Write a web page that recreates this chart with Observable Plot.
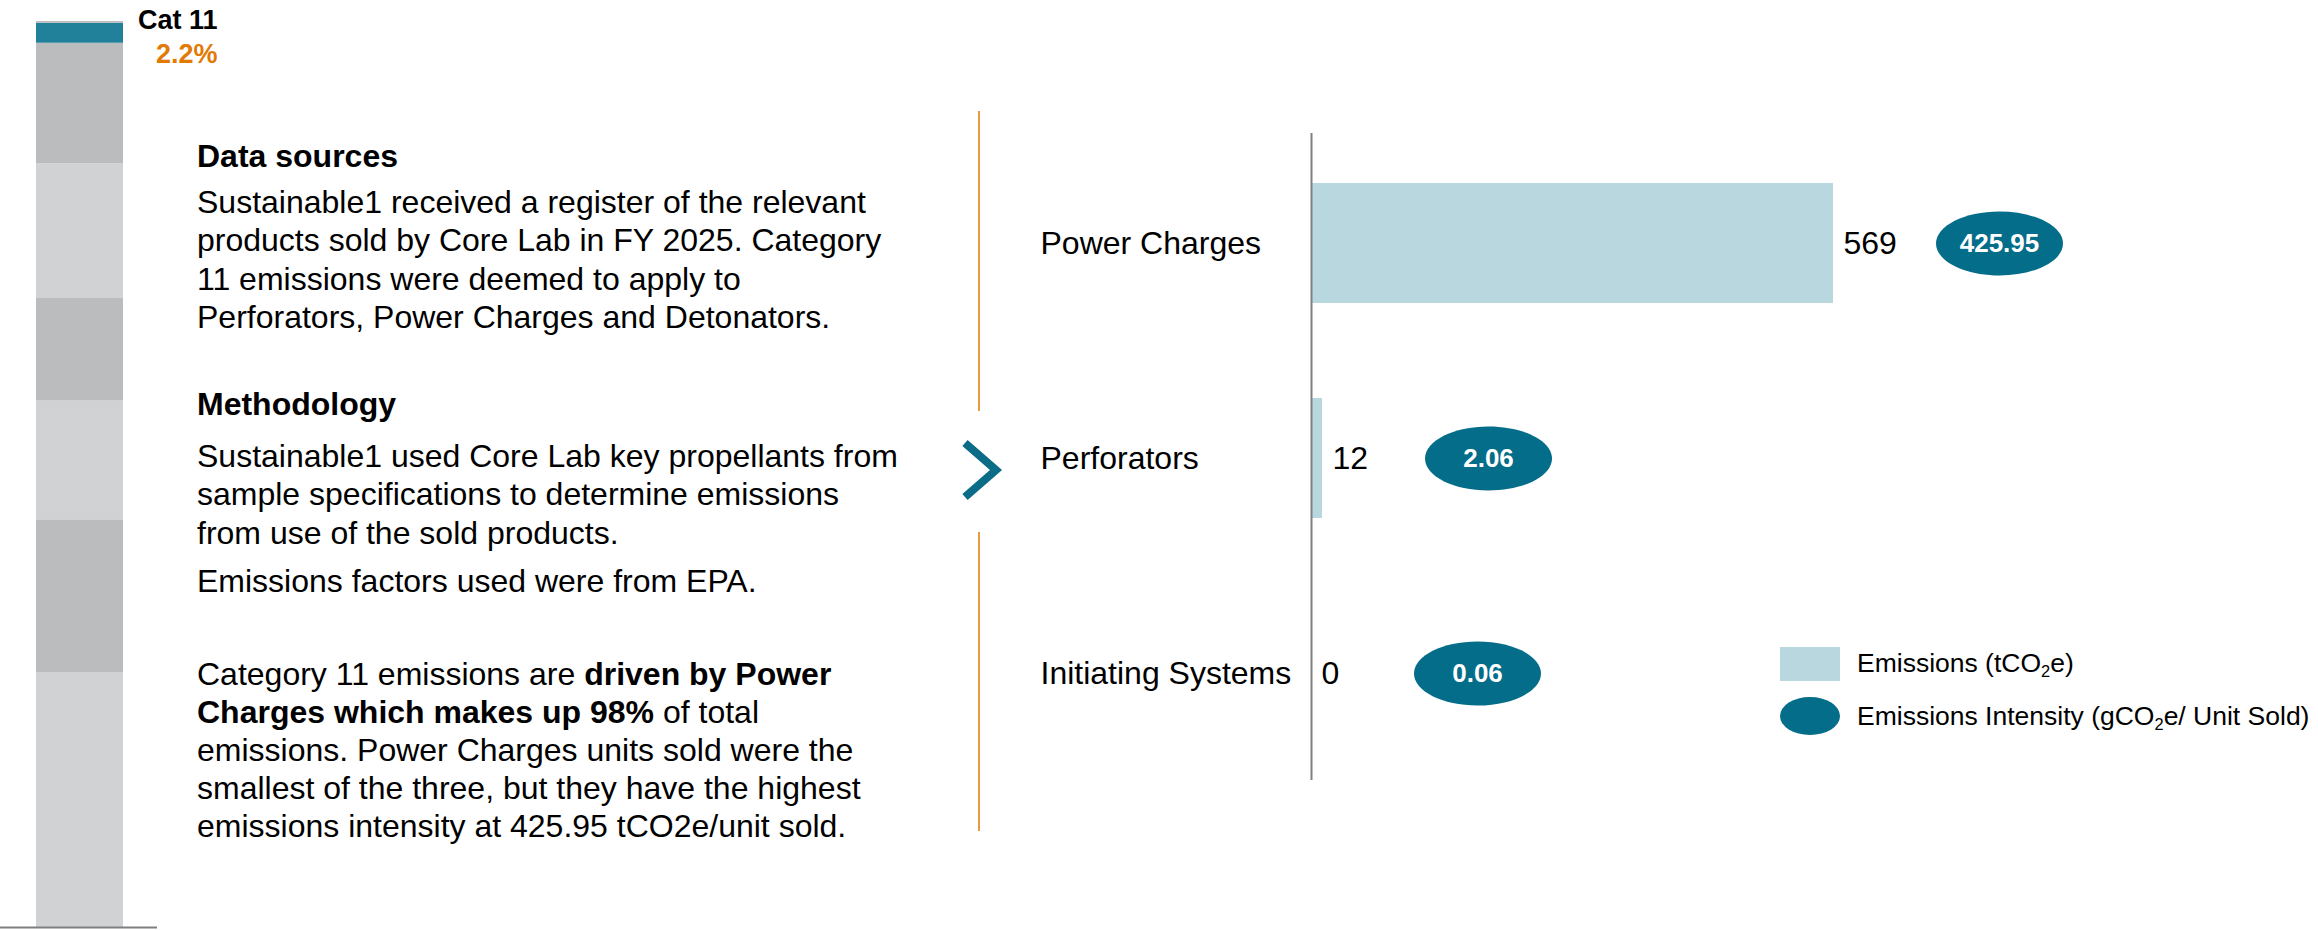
<!DOCTYPE html>
<html>
<head>
<meta charset="utf-8">
<script src="https://cdn.jsdelivr.net/npm/d3@7"></script>
<script src="https://cdn.jsdelivr.net/npm/@observablehq/plot@0.6"></script>
<style>
  body { margin: 0; background: #fff; }
  #root { position: relative; width: 2318px; height: 930px; overflow: hidden;
          font-family: "Liberation Sans", Arial, Helvetica, sans-serif; color: #000; }
  .tx { position: absolute; left: 197px; font-size: 32px; line-height: 38.5px; white-space: nowrap; }
  .hd { font-weight: bold; }
  .lg { position: absolute; left: 1857px; font-size: 26.5px; line-height: 30px; white-space: nowrap; }
  .lg sub { font-size: 0.62em; vertical-align: -0.3em; line-height: 0; }
</style>
</head>
<body>
<div id="root">
  <div class="tx hd" style="top:136.7px">Data sources</div>
  <div class="tx" style="top:182.7px">Sustainable1 received a register of the relevant<br>products sold by Core Lab in FY 2025. Category<br>11 emissions were deemed to apply to<br>Perforators, Power Charges and Detonators.</div>
  <div class="tx hd" style="top:384.7px">Methodology</div>
  <div class="tx" style="top:436.7px">Sustainable1 used Core Lab key propellants from<br>sample specifications to determine emissions<br>from use of the sold products.</div>
  <div class="tx" style="top:561.7px">Emissions factors used were from EPA.</div>
  <div class="tx" style="top:654.9px;line-height:38px">Category 11 emissions are <b>driven by Power<br>Charges which makes up 98%</b> of total<br>emissions. Power Charges units sold were the<br>smallest of the three, but they have the highest<br>emissions intensity at 425.95 tCO2e/unit sold.</div>

  <svg style="position:absolute;left:1780px;top:647px" width="60" height="34"><rect width="60" height="34" fill="#b8d7df"/></svg>
  <div class="lg" style="top:648.4px">Emissions (tCO<sub>2</sub>e)</div>
  <svg style="position:absolute;left:1780px;top:697px" width="60" height="38"><ellipse cx="30" cy="19" rx="30" ry="19" fill="#046d89"/></svg>
  <div class="lg" style="top:701.4px">Emissions Intensity (gCO<sub>2</sub>e/ Unit Sold)</div>
</div>
<script>
// ---- Data ----
const segments = ["Category A", "Category B", "Category C", "Category D", "Category E", "Category F", "Cat 11", "Other"];
const shares = [28.1, 16.9, 13.1, 11.4, 14.8, 13.3, 2.2, 0.2];
const highlight = "Cat 11";
const highlightLabel = "2.2%";

const products = ["Power Charges", "Perforators", "Initiating Systems"];
const emissions = [569, 12, 0];
const intensity = [425.95, 2.06, 0.06];

// ---- Tables built from the arrays ----
const stackRows = segments.map((s, i) => ({segment: s, share: shares[i], group: "Scope 3"}));
const rows = products.map((p, i) => ({product: p, emissions: emissions[i], intensity: intensity[i]}));

const FONT = '"Liberation Sans", Arial, Helvetica, sans-serif';
const root = document.getElementById("root");

// ---- Left stacked bar ----
const highlightTop = d3.sum(shares.slice(0, segments.indexOf(highlight) + 1));
const left = Plot.plot({
  width: 260, height: 930,
  marginLeft: 0, marginRight: 103, marginTop: 21, marginBottom: 3,
  style: {background: "transparent", fontFamily: FONT, color: "#000"},
  x: {type: "band", domain: ["Scope 3"], range: [36, 123], padding: 0, axis: null},
  y: {domain: [0, 100], range: [927, 21], axis: null},
  color: {
    domain: segments,
    range: ["#d1d2d4", "#bbbcbe", "#d1d2d4", "#bbbcbe", "#d1d2d4", "#bbbcbe", "#21819a", "#bbbcbe"]
  },
  marks: [
    Plot.barY(stackRows, {x: "group", y: "share", fill: "segment"}),
    Plot.ruleY([0], {stroke: "#7f7f7f", strokeWidth: 2}),
    Plot.text([highlight], {x: () => "Scope 3", y: () => highlightTop, text: d => d,
      textAnchor: "end", dx: 137.5, dy: -3.4, fontSize: 27, fontWeight: "bold", fill: "#000"}),
    Plot.text([highlightLabel], {x: () => "Scope 3", y: () => highlightTop, text: d => d,
      textAnchor: "end", dx: 137.5, dy: 31.3, fontSize: 27, fontWeight: "bold", fill: "#e17b05"})
  ]
});
left.style.position = "absolute"; left.style.left = "0px"; left.style.top = "0px";
root.appendChild(left);

// ---- Right bar chart ----
const K = 0.5523;
const ellipse = {
  draw(context, size) {
    const rx = Math.sqrt(size / Math.PI), ry = rx * 0.504;
    context.moveTo(rx, 0);
    context.bezierCurveTo(rx, K * ry, K * rx, ry, 0, ry);
    context.bezierCurveTo(-K * rx, ry, -rx, K * ry, -rx, 0);
    context.bezierCurveTo(-rx, -K * ry, -K * rx, -ry, 0, -ry);
    context.bezierCurveTo(K * rx, -ry, rx, -K * ry, rx, 0);
    context.closePath();
  }
};

const right = Plot.plot({
  width: 2318, height: 930,
  marginLeft: 1040, marginRight: 0, marginTop: 133, marginBottom: 150,
  style: {background: "transparent", fontFamily: FONT, color: "#000"},
  x: {domain: [0, d3.max(emissions)], range: [1311, 1833], axis: null},
  y: {type: "band", domain: products, range: [86.5, 828.5], padding: 0.443, axis: null},
  marks: [
    Plot.barX(rows, {x: "emissions", y: "product", fill: "#b8d7df"}),
    Plot.ruleX([0], {stroke: "#808080", strokeWidth: 2}),
    Plot.text(rows, {y: "product", text: "product", frameAnchor: "left", textAnchor: "start",
      fontSize: 32, fill: "#000"}),
    Plot.text(rows, {x: "emissions", y: "product", text: d => String(d.emissions), dx: 10,
      textAnchor: "start", fontSize: 32, fill: "#000"}),
    Plot.dot(rows, {x: "emissions", y: "product", dx: 166, r: 63.5, symbol: ellipse,
      fill: "#046d89", stroke: null}),
    Plot.text(rows, {x: "emissions", y: "product", dx: 166, text: d => d.intensity.toFixed(2),
      fill: "#ffffff", fontWeight: "bold", fontSize: 26})
  ]
});
right.style.position = "absolute"; right.style.left = "0px"; right.style.top = "0px";
root.appendChild(right);

// ---- Decorations: divider and chevron ----
const ns = "http://www.w3.org/2000/svg";
const deco = document.createElementNS(ns, "svg");
deco.setAttribute("width", 2318); deco.setAttribute("height", 930);
deco.style.position = "absolute"; deco.style.left = "0px"; deco.style.top = "0px";
deco.innerHTML =
  '<line x1="979" y1="111" x2="979" y2="411" stroke="#e07a00" stroke-width="1.5"/>' +
  '<line x1="979" y1="532" x2="979" y2="831" stroke="#e07a00" stroke-width="1.5"/>' +
  '<polyline points="965,443 996,470 965,497" fill="none" stroke="#0b6c88" stroke-width="8" stroke-linejoin="miter"/>';
root.appendChild(deco);
</script>
</body>
</html>
